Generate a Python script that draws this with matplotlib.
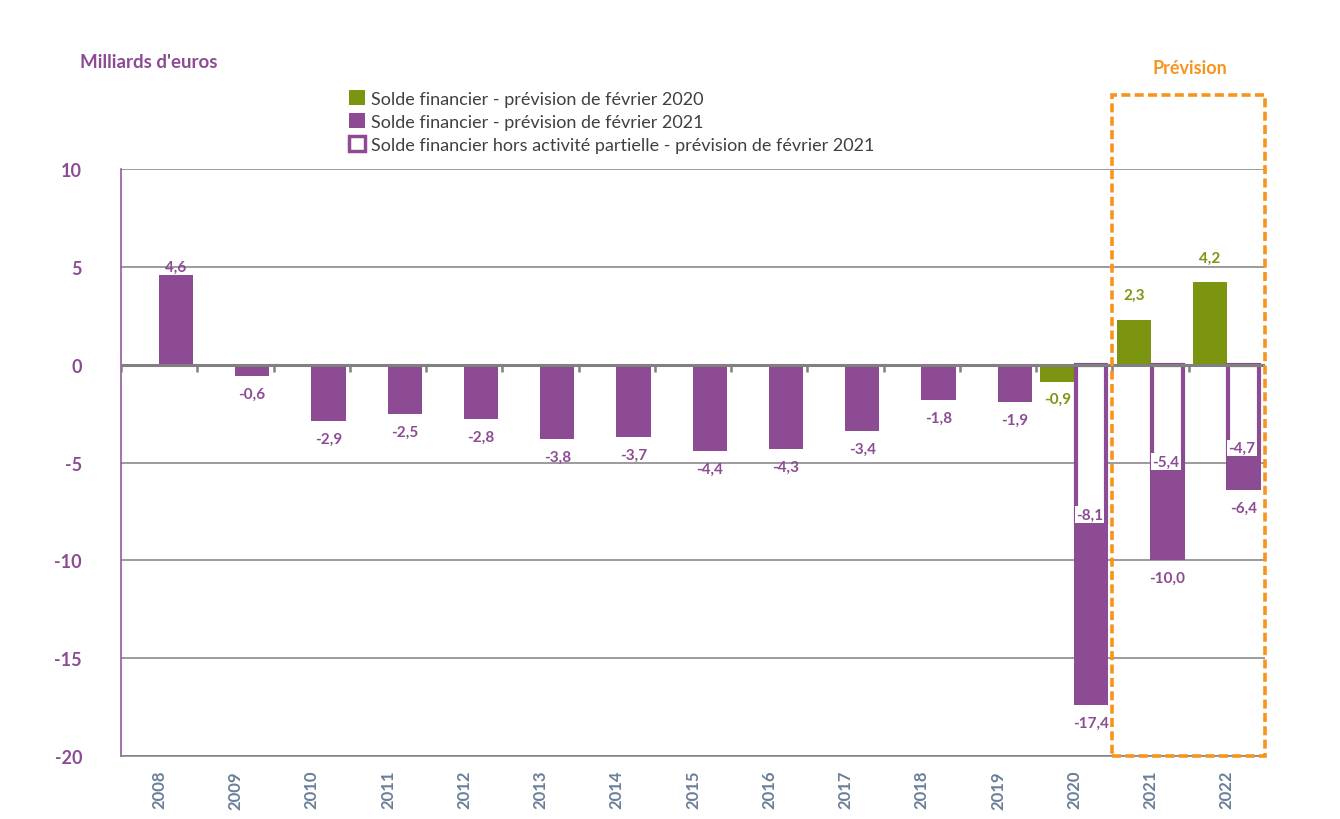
import numpy as np
import matplotlib
matplotlib.use("Agg")
import matplotlib.pyplot as plt
from matplotlib.patches import Patch, Rectangle

plt.rcParams["font.family"] = ["Lato", "DejaVu Sans"]
plt.rcParams["axes.unicode_minus"] = False

years = ["2008", "2009", "2010", "2011", "2012", "2013", "2014", "2015",
         "2016", "2017", "2018", "2019", "2020", "2021", "2022"]
solde_2021 = [4.6, -0.6, -2.9, -2.5, -2.8, -3.8, -3.7, -4.4, -4.3, -3.4,
              -1.8, -1.9, -17.4, -10.0, -6.4]
# prévision de février 2020 : seulement 2020-2022
years_2020 = ["2020", "2021", "2022"]
solde_2020 = [-0.9, 2.3, 4.2]
# hors activité partielle : 2020-2022
years_hap = ["2020", "2021", "2022"]
solde_hap = [-8.1, -5.4, -4.7]

PURPLE = "#8D4B94"
GREEN = "#7B9510"
ORANGE = "#F7941D"
GRAY = "#808080"
XLAB = "#6A7E98"


def fmt(v):
    return f"{v:.1f}".replace(".", ",")


fig = plt.figure(figsize=(13.4, 8.2), dpi=100)
ax = fig.add_axes([0.0903, 0.0768, 0.8537, 0.7159])

x = np.arange(len(years))
idx = {y: i for i, y in enumerate(years)}
w = 0.45
off = 0.22

# purple bars
ax.bar(x + off, solde_2021, w, color=PURPLE, zorder=3)
for xi, v in zip(x, solde_2021):
    if v >= 0:
        ax.text(xi + off, v + 0.02, fmt(v), ha="center", va="bottom",
                color=PURPLE, fontsize=11, fontweight="bold", zorder=5)
    else:
        ax.text(xi + off, v - 0.55, fmt(v), ha="center", va="top",
                color=PURPLE, fontsize=11, fontweight="bold", zorder=5)

# green bars
xg = np.array([idx[y] for y in years_2020])
ax.bar(xg - off, solde_2020, w, color=GREEN, zorder=3)
for xi, v in zip(xg, solde_2020):
    if v >= 0:
        ax.text(xi - off, v + 0.9, fmt(v), ha="center", va="bottom",
                color=GREEN, fontsize=11, fontweight="bold", zorder=5)
    else:
        ax.text(xi - off, v - 0.5, fmt(v), ha="center", va="top",
                color=GREEN, fontsize=11, fontweight="bold", zorder=5)

# white bars with purple outline (hors activité partielle)
xh = np.array([idx[y] for y in years_hap])
ax.bar(xh + off, solde_hap, w - 0.05, color="white", edgecolor=PURPLE,
       linewidth=3, zorder=4)
for xi, v in zip(xh, solde_hap):
    ax.text(xi + off - 0.02, v + 0.08, fmt(v), ha="center", va="bottom",
            color=PURPLE, fontsize=11, fontweight="bold", zorder=6,
            bbox=dict(facecolor="white", edgecolor="none", pad=1))

# axes
ax.set_xlim(-0.5, len(years) - 0.5)
ax.set_ylim(-20, 10)
ax.set_yticks(np.arange(-20, 11, 5))
ax.yaxis.grid(True, color=GRAY, linewidth=1.1, zorder=0)
ax.set_axisbelow(True)
ax.axhline(0, color=GRAY, linewidth=2.2, zorder=4.5)
ax.vlines(np.arange(len(years) + 1) - 0.5, -0.4, 0, color=GRAY,
          linewidth=1.8, zorder=4.5)

ax.set_xticks(x)
ax.set_xticklabels(years, rotation=90, color=XLAB, fontsize=12,
                   fontweight="bold")
ax.tick_params(axis="x", length=0, pad=10)
ax.tick_params(axis="y", length=0, pad=28, labelsize=13, labelcolor=PURPLE)
for lab in ax.get_yticklabels():
    lab.set_fontweight("bold")

for s in ["top", "right"]:
    ax.spines[s].set_visible(False)
ax.spines["bottom"].set_color(GRAY)
ax.spines["bottom"].set_linewidth(1.1)
ax.spines["left"].set_color(PURPLE)
ax.spines["left"].set_linewidth(1.1)

# prévision box
rect = Rectangle((12.5, -20), 2.0, 33.8, fill=False, edgecolor=ORANGE,
                 linewidth=2.6, linestyle=(0, (2.5, 1.2)), clip_on=False,
                 zorder=6)
ax.add_patch(rect)
fig.text(1190 / 1340, 1 - 68 / 820, "Prévision", ha="center", va="center",
         color=ORANGE, fontsize=13, fontweight="bold")

fig.text(80 / 1340, 1 - 62 / 820, "Milliards d'euros", ha="left",
         va="center", color=PURPLE, fontsize=13.5, fontweight="bold")

handles = [
    Patch(facecolor=GREEN, edgecolor="none"),
    Patch(facecolor=PURPLE, edgecolor="none"),
    Patch(facecolor="white", edgecolor=PURPLE, linewidth=2.5),
]
labels = [
    "Solde financier - prévision de février 2020",
    "Solde financier - prévision de février 2021",
    "Solde financier hors activité partielle - prévision de février 2021",
]
fig.legend(handles, labels, loc="upper left",
           bbox_to_anchor=(340 / 1340, 1 - 82 / 820), frameon=False,
           fontsize=13, labelcolor="#404040", handlelength=0.9,
           handleheight=0.9, handletextpad=0.3, labelspacing=0.35,
           borderpad=0)

fig.savefig("out.png", dpi=100)
